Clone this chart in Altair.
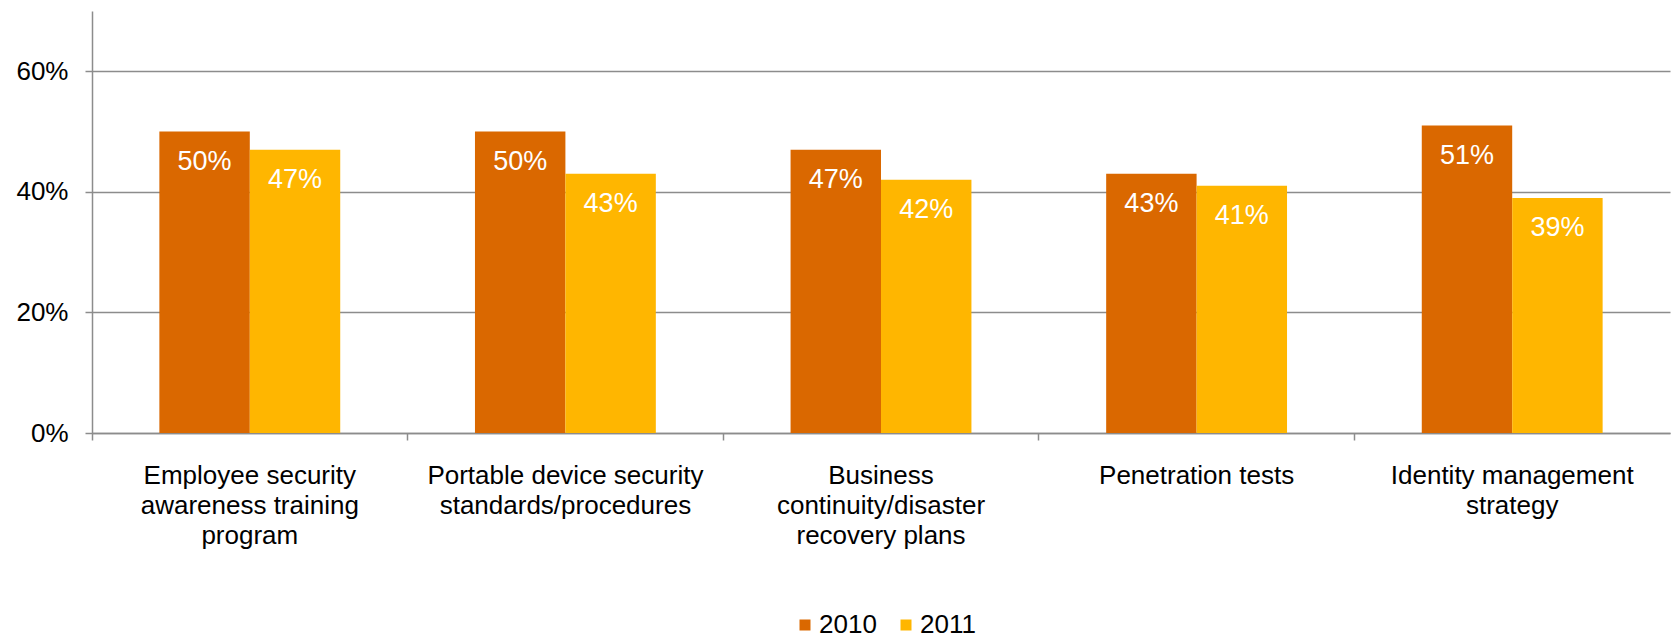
import altair as alt
import pandas as pd

categories = [
    "Employee security|awareness training|program",
    "Portable device security|standards/procedures",
    "Business|continuity/disaster|recovery plans",
    "Penetration tests",
    "Identity management|strategy",
]
years = ["2010", "2011"]
values_2010 = [0.50, 0.50, 0.47, 0.43, 0.51]
values_2011 = [0.47, 0.43, 0.42, 0.41, 0.39]
colors = ["#DA6800", "#FFB600"]

rows = []
for c, a, b in zip(categories, values_2010, values_2011):
    rows.append({"cat": c, "year": "2010", "value": a})
    rows.append({"cat": c, "year": "2011", "value": b})
df = pd.DataFrame(rows)

FONT = "Liberation Sans"
GRID = "#8c8c8c"

x = alt.X(
    "cat:N",
    sort=categories,
    title=None,
    scale=alt.Scale(paddingInner=0, paddingOuter=0),
    axis=alt.Axis(
        labelExpr="split(datum.label, '|')",
        labelAngle=0,
        labelFontSize=26,
        labelFont=FONT,
        labelColor="#000000",
        labelLineHeight=30,
        labelPadding=22,
        labelLimit=400,
        tickSize=7,
        tickColor=GRID,
        tickWidth=1.5,
        bandPosition=0,
        domainColor=GRID,
        domainWidth=1.5,
        grid=False,
    ),
)
xoff = alt.XOffset("year:N", scale=alt.Scale(paddingOuter=0.745, paddingInner=0))

y = alt.Y(
    "value:Q",
    title=None,
    scale=alt.Scale(domain=[0, 0.7], nice=False),
    axis=alt.Axis(
        values=[0, 0.2, 0.4, 0.6],
        format=".0%",
        labelFontSize=26,
        labelFont=FONT,
        labelColor="#000000",
        labelPadding=17,
        tickSize=7,
        tickColor=GRID,
        tickWidth=1.5,
        domainColor=GRID,
        domainWidth=1.5,
        gridColor=GRID,
        gridWidth=1.5,
    ),
)

color = alt.Color(
    "year:N",
    scale=alt.Scale(domain=years, range=colors),
    legend=alt.Legend(
        title=None,
        orient="none",
        direction="horizontal",
        legendX=700,
        legendY=601,
        symbolType="square",
        symbolSize=121,
        symbolStrokeWidth=0,
        symbolOpacity=1,
        labelFontSize=26,
        labelFont=FONT,
        labelColor="#000000",
        labelOffset=1,
        columnPadding=16,
    ),
)

bars = alt.Chart(df).mark_bar(opacity=1).encode(x=x, xOffset=xoff, y=y, color=color)
text = alt.Chart(df).mark_text(
    color="white", fontSize=27, font=FONT, baseline="middle", dy=30
).encode(x=x, xOffset=xoff, y=y, text=alt.Text("value:Q", format=".0%"))

chart = (
    alt.layer(bars, text)
    .properties(
        width=1578,
        height=422,
        padding={"left": 92, "top": 11, "right": 1, "bottom": 206},
        autosize=alt.AutoSizeParams(type="none"),
        view=alt.ViewBackground(stroke="transparent", strokeWidth=0, strokeOpacity=0),
    )
    .configure_view(stroke="transparent", strokeWidth=0, strokeOpacity=0)
    .configure(background="white")
)

chart.save("out.html", embed_options={"renderer": "svg", "actions": False})
